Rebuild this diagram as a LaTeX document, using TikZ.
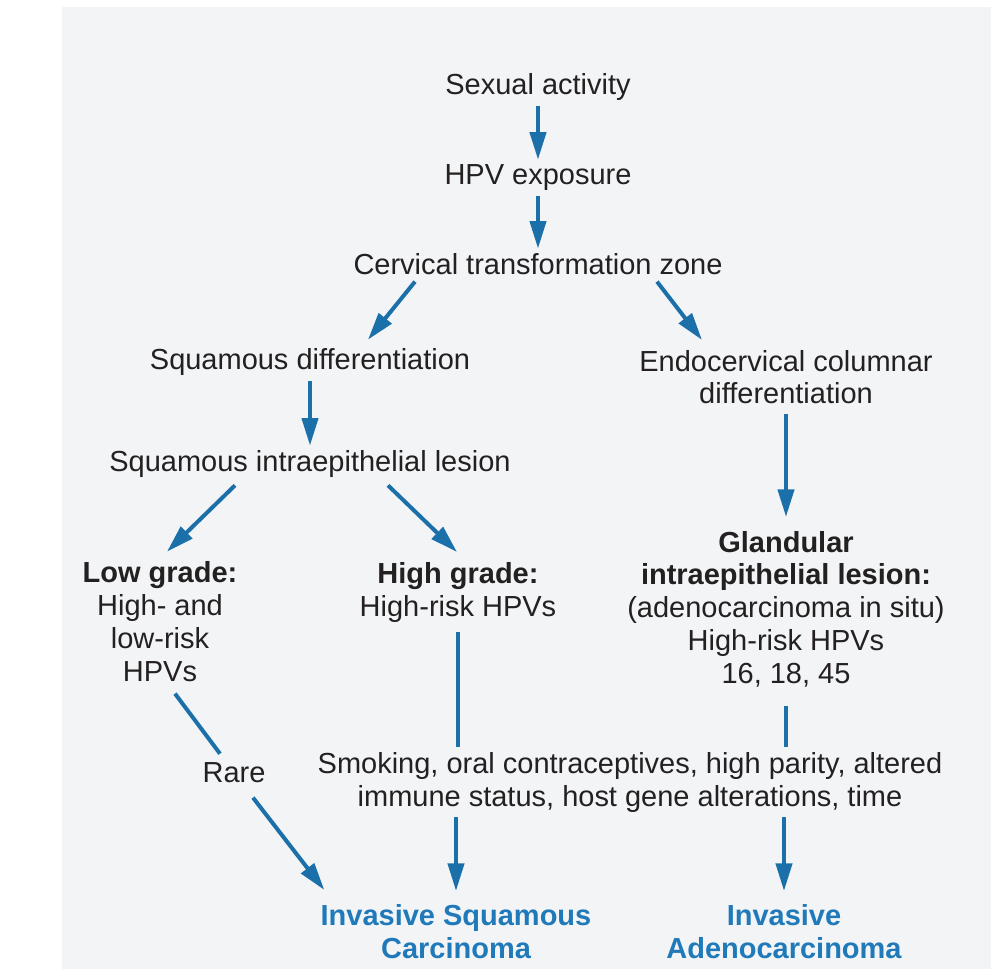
\documentclass[tikz,border=0pt]{standalone}
\usepackage{fontspec}
\setmainfont{Liberation Sans}
\usetikzlibrary{arrows.meta,calc}

\definecolor{arrowblue}{RGB}{28,112,170}
\definecolor{titleblue}{RGB}{32,122,185}
\definecolor{inkgray}{RGB}{35,32,33}
\definecolor{paper}{RGB}{243,244,246}

\begin{document}
\begin{tikzpicture}[x=0.02cm, y=-0.02cm,
  font=\fontsize{16.5}{18.6}\selectfont,
  txt/.style={text=inkgray, align=center, anchor=base, inner sep=0.1cm},
  goal/.style={txt, text=titleblue, font=\fontsize{16.5}{18.6}\selectfont\bfseries},
  arr/.style={draw=arrowblue, line width=0.08cm, -{Triangle[length=0.55cm, width=0.32cm]}},
  lnk/.style={draw=arrowblue, line width=0.08cm}]
% 背景
\useasboundingbox (0,0) rectangle (991,969);
\fill[paper] (62,7) rectangle (991,969);

% ノード(座標配置・最終行の基線で揃える)
\node[txt] (sex)  at (538,95)  {Sexual activity};
\node[txt] (hpv)  at (538,185) {HPV exposure};
\node[txt] (ctz)  at (538,275) {Cervical transformation zone};
\node[txt] (sqd)  at (310,370) {Squamous differentiation};
\node[txt] (endo) at (786,404) {Endocervical columnar\\differentiation};
\node[txt] (sil)  at (310,472) {Squamous intraepithelial lesion};
\node[txt] (low)  at (160,681) {\textbf{Low grade:}\\High- and\\low-risk\\HPVs};
\node[txt] (high) at (458,616) {\textbf{High grade:}\\High-risk HPVs};
\node[txt] (gil)  at (786,683) {\textbf{Glandular}\\\textbf{intraepithelial lesion:}\\(adenocarcinoma in situ)\\High-risk HPVs\\16, 18, 45};
\node[txt] (rare) at (234,782) {Rare};
\node[txt] (smk)  at (630,806) {Smoking, oral contraceptives, high parity, altered\\immune status, host gene alterations, time};
\node[goal] (isc) at (456,958) {Invasive Squamous\\Carcinoma};
\node[goal] (iac) at (784,958) {Invasive\\Adenocarcinoma};

% 矢印
\draw[arr] (sex) -- (hpv);
\draw[arr] (hpv) -- (ctz);
\draw[arr] ($(ctz.south)+(-123,1)$) -- ($(sqd.north)+(58,-4)$);
\draw[arr] ($(ctz.south)+(119,1)$) -- ($(endo.north)+(-84,-5)$);
\draw[arr] (sqd.south) -- (sqd.south |- sil.north);
\draw[arr] ($(sil.south)+(-75,2)$) -- ($(low.north)+(7,-5)$);
\draw[arr] ($(sil.south)+(78,2)$) -- ($(high.north)+(-1,-5)$);
\draw[arr] ($(endo.south)+(0,4)$) -- ($(gil.north)+(0,-9)$);

% 線(矢じりなし)と合流後の矢印
\draw[lnk] ($(high.south)+(0,5)$) -- (high.south |- smk.north);
\draw[lnk] ($(gil.south)+(0,14)$) -- (gil.south |- smk.north);
\draw[lnk] ($(low.south)+(15,7)$) -- ($(rare.north)+(-14,-3)$);
\draw[arr, shorten >=0.16cm] (isc.north |- smk.south) -- (isc.north);
\draw[arr, shorten >=0.16cm] (iac.north |- smk.south) -- (iac.north);
\draw[arr] ($(rare.south)+(19,10)$) -- ($(isc.north west)+(9,-9)$);
\end{tikzpicture}
\end{document}
